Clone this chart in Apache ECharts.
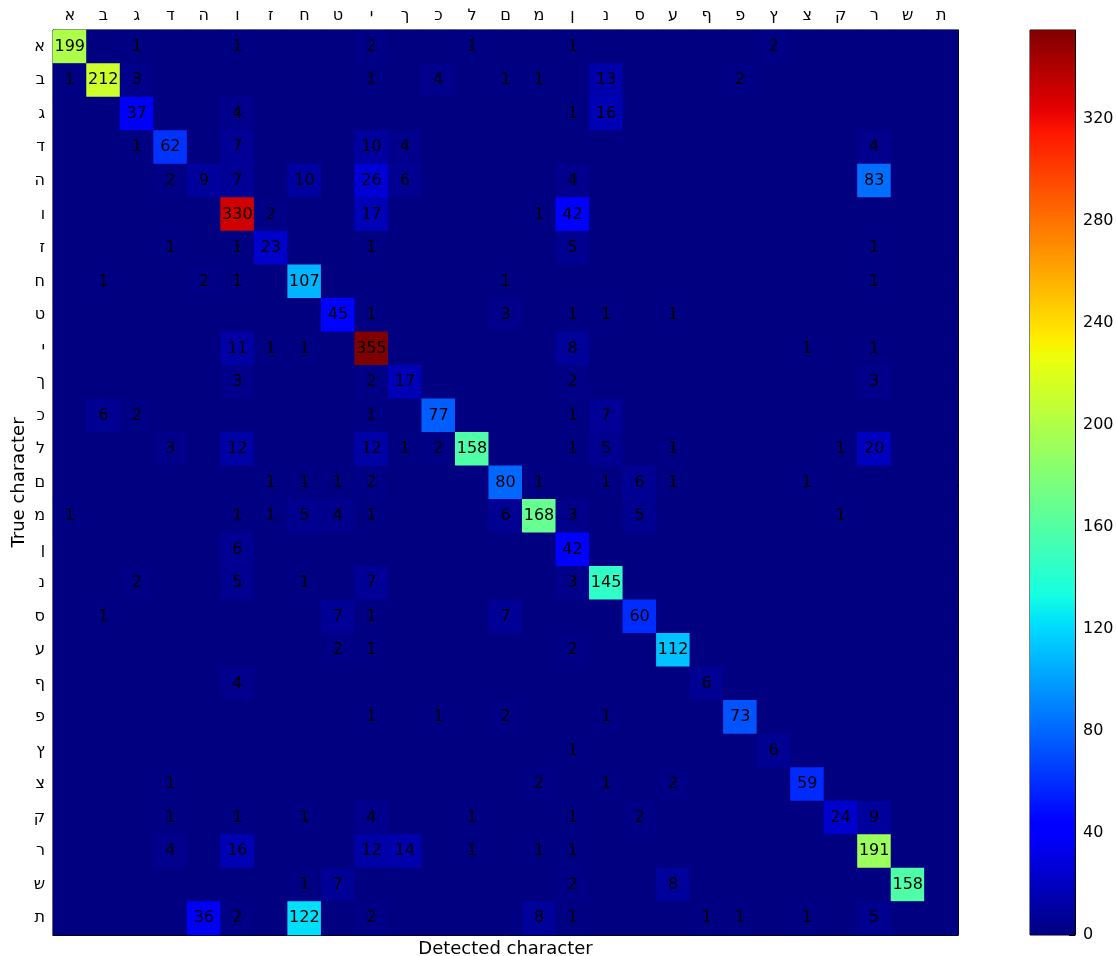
<!DOCTYPE html>
<html>
<head>
<meta charset="utf-8">
<script src="https://cdn.jsdelivr.net/npm/echarts@6/dist/echarts.min.js"></script>
<style>
html,body{margin:0;padding:0;background:#fff;}
#chart{width:1116px;height:956px;}
</style>
</head>
<body>
<div id="chart"></div>
<script>
const letters = ['א','ב','ג','ד','ה','ו','ז','ח','ט','י','ך','כ','ל','ם','מ','ן','נ','ס','ע','ף','פ','ץ','צ','ק','ר','ש','ת'];
const colorbarTicks = [0, 40, 80, 120, 160, 200, 240, 280, 320];
const colorMax = 355;
// rows: true character, columns: detected character
const counts = [
[199,0,1,0,0,1,0,0,0,2,0,0,1,0,0,1,0,0,0,0,0,2,0,0,0,0,0],
[1,212,3,0,0,0,0,0,0,1,0,4,0,1,1,0,13,0,0,0,2,0,0,0,0,0,0],
[0,0,37,0,0,4,0,0,0,0,0,0,0,0,0,1,16,0,0,0,0,0,0,0,0,0,0],
[0,0,1,62,0,7,0,0,0,10,4,0,0,0,0,0,0,0,0,0,0,0,0,0,4,0,0],
[0,0,0,2,9,7,0,10,0,26,6,0,0,0,0,4,0,0,0,0,0,0,0,0,83,0,0],
[0,0,0,0,0,330,2,0,0,17,0,0,0,0,1,42,0,0,0,0,0,0,0,0,0,0,0],
[0,0,0,1,0,1,23,0,0,1,0,0,0,0,0,5,0,0,0,0,0,0,0,0,1,0,0],
[0,1,0,0,2,1,0,107,0,0,0,0,0,1,0,0,0,0,0,0,0,0,0,0,1,0,0],
[0,0,0,0,0,0,0,0,45,1,0,0,0,3,0,1,1,0,1,0,0,0,0,0,0,0,0],
[0,0,0,0,0,11,1,1,0,355,0,0,0,0,0,8,0,0,0,0,0,0,1,0,1,0,0],
[0,0,0,0,0,3,0,0,0,2,17,0,0,0,0,2,0,0,0,0,0,0,0,0,3,0,0],
[0,6,2,0,0,0,0,0,0,1,0,77,0,0,0,1,7,0,0,0,0,0,0,0,0,0,0],
[0,0,0,3,0,12,0,0,0,12,1,2,158,0,0,1,5,0,1,0,0,0,0,1,20,0,0],
[0,0,0,0,0,0,1,1,1,2,0,0,0,80,1,0,1,6,1,0,0,0,1,0,0,0,0],
[1,0,0,0,0,1,1,5,4,1,0,0,0,6,168,3,0,5,0,0,0,0,0,1,0,0,0],
[0,0,0,0,0,6,0,0,0,0,0,0,0,0,0,42,0,0,0,0,0,0,0,0,0,0,0],
[0,0,2,0,0,5,0,1,0,7,0,0,0,0,0,3,145,0,0,0,0,0,0,0,0,0,0],
[0,1,0,0,0,0,0,0,7,1,0,0,0,7,0,0,0,60,0,0,0,0,0,0,0,0,0],
[0,0,0,0,0,0,0,0,2,1,0,0,0,0,0,2,0,0,112,0,0,0,0,0,0,0,0],
[0,0,0,0,0,4,0,0,0,0,0,0,0,0,0,0,0,0,0,6,0,0,0,0,0,0,0],
[0,0,0,0,0,0,0,0,0,1,0,1,0,2,0,0,1,0,0,0,73,0,0,0,0,0,0],
[0,0,0,0,0,0,0,0,0,0,0,0,0,0,0,1,0,0,0,0,0,6,0,0,0,0,0],
[0,0,0,1,0,0,0,0,0,0,0,0,0,0,2,0,1,0,2,0,0,0,59,0,0,0,0],
[0,0,0,1,0,1,0,1,0,4,0,0,1,0,0,1,0,2,0,0,0,0,0,24,9,0,0],
[0,0,0,4,0,16,0,0,0,12,14,0,1,0,1,1,0,0,0,0,0,0,0,0,191,0,0],
[0,0,0,0,0,0,0,1,7,0,0,0,0,0,0,2,0,0,8,0,0,0,0,0,0,158,0],
[0,0,0,0,36,2,0,122,0,2,0,0,0,0,8,1,0,0,0,1,1,0,1,0,5,0,0]
];

// matplotlib "jet" colormap
function jet(t){
  function seg(pts){
    for(let i=0;i<pts.length-1;i++){
      const a=pts[i], b=pts[i+1];
      if(t>=a[0] && t<=b[0]){ return a[1]+(b[1]-a[1])*(t-a[0])/(b[0]-a[0]); }
    }
    return pts[pts.length-1][1];
  }
  const r=seg([[0,0],[0.35,0],[0.66,1],[0.89,1],[1,0.5]]);
  const g=seg([[0,0],[0.125,0],[0.375,1],[0.64,1],[0.91,0],[1,0]]);
  const b=seg([[0,0.5],[0.11,1],[0.34,1],[0.65,0],[1,0]]);
  const h=v=>Math.round(Math.max(0,Math.min(1,v))*255).toString(16).padStart(2,'0');
  return '#'+h(r)+h(g)+h(b);
}
const N = 128;
const jetColors = [];
const jetStops = [];
for(let i=0;i<=N;i++){ const t=i/N; jetColors.push(jet(t)); jetStops.push({offset:t,color:jet(t)}); }

const heatData = [];
counts.forEach((row, r) => row.forEach((v, c) => heatData.push([c, r, v])));

const FONT = 'DejaVu Sans';
const chart = echarts.init(document.getElementById('chart'));
chart.setOption({
  backgroundColor:'#fff',
  animation:false,
  textStyle:{fontFamily:FONT},
  grid:[
    {left:53, top:30, width:905, height:905, show:true, borderColor:'#000', borderWidth:1,
     backgroundColor:'#000080', outerBoundsMode:'none', containLabel:false},
    {left:1030, top:30, width:45, height:905, show:true, borderColor:'#000', borderWidth:1,
     outerBoundsMode:'none', containLabel:false}
  ],
  xAxis:[
    {type:'category', data:letters, gridIndex:0, position:'top',
     axisLine:{show:true, lineStyle:{color:'#000'}},
     axisTick:{show:true, inside:true, alignWithLabel:true, length:5, lineStyle:{color:'#000'}},
     axisLabel:{fontSize:16, color:'#000', fontFamily:FONT, margin:6, interval:0},
     splitLine:{show:false}},
    {type:'category', data:letters, gridIndex:0, position:'bottom',
     name:'Detected character', nameLocation:'middle', nameGap:5, nameMoveOverlap:false,
     nameTextStyle:{fontSize:18, color:'#000', fontFamily:FONT, verticalAlign:'top'},
     axisLine:{show:true, lineStyle:{color:'#000'}},
     axisTick:{show:true, inside:true, alignWithLabel:true, length:5, lineStyle:{color:'#000'}},
     axisLabel:{show:false}, splitLine:{show:false}},
    {type:'category', data:[''], gridIndex:1, show:false}
  ],
  yAxis:[
    {type:'category', data:letters, gridIndex:0, inverse:true, position:'left',
     name:'True character', nameLocation:'middle', nameGap:25, nameRotate:90, nameMoveOverlap:false,
     nameTextStyle:{fontSize:18, color:'#000', fontFamily:FONT},
     axisLine:{show:true, lineStyle:{color:'#000'}},
     axisTick:{show:true, inside:true, alignWithLabel:true, length:5, lineStyle:{color:'#000'}},
     axisLabel:{fontSize:16, color:'#000', fontFamily:FONT, margin:8, interval:0},
     splitLine:{show:false}},
    {type:'category', data:letters, gridIndex:0, inverse:true, position:'right',
     axisLine:{show:true, lineStyle:{color:'#000'}},
     axisTick:{show:true, inside:true, alignWithLabel:true, length:5, lineStyle:{color:'#000'}},
     axisLabel:{show:false}, splitLine:{show:false}},
    {type:'value', gridIndex:1, position:'right', min:0, max:colorMax, interval:40,
     axisLine:{show:true, lineStyle:{color:'#000'}},
     axisTick:{show:true, inside:true, length:6, lineStyle:{color:'#000'}},
     axisLabel:{fontSize:16, color:'#000', fontFamily:FONT, margin:8, showMaxLabel:false,
       formatter:v=>colorbarTicks.indexOf(v)>=0?String(v):''},
     splitLine:{show:false}}
  ],
  visualMap:{show:false, type:'continuous', min:0, max:colorMax, dimension:2, seriesIndex:0,
    inRange:{color:jetColors}},
  series:[
    {type:'heatmap', xAxisIndex:0, yAxisIndex:0, data:heatData,
     itemStyle:{borderWidth:0},
     label:{show:true, color:'#000', fontSize:16, fontFamily:FONT,
       formatter:p=>p.value[2]?String(p.value[2]):''},
     emphasis:{disabled:true}},
    {type:'bar', xAxisIndex:2, yAxisIndex:2, data:[colorMax], barWidth:'100%', silent:true,
     itemStyle:{color:new echarts.graphic.LinearGradient(0,1,0,0,jetStops)}}
  ]
});
</script>
</body>
</html>
